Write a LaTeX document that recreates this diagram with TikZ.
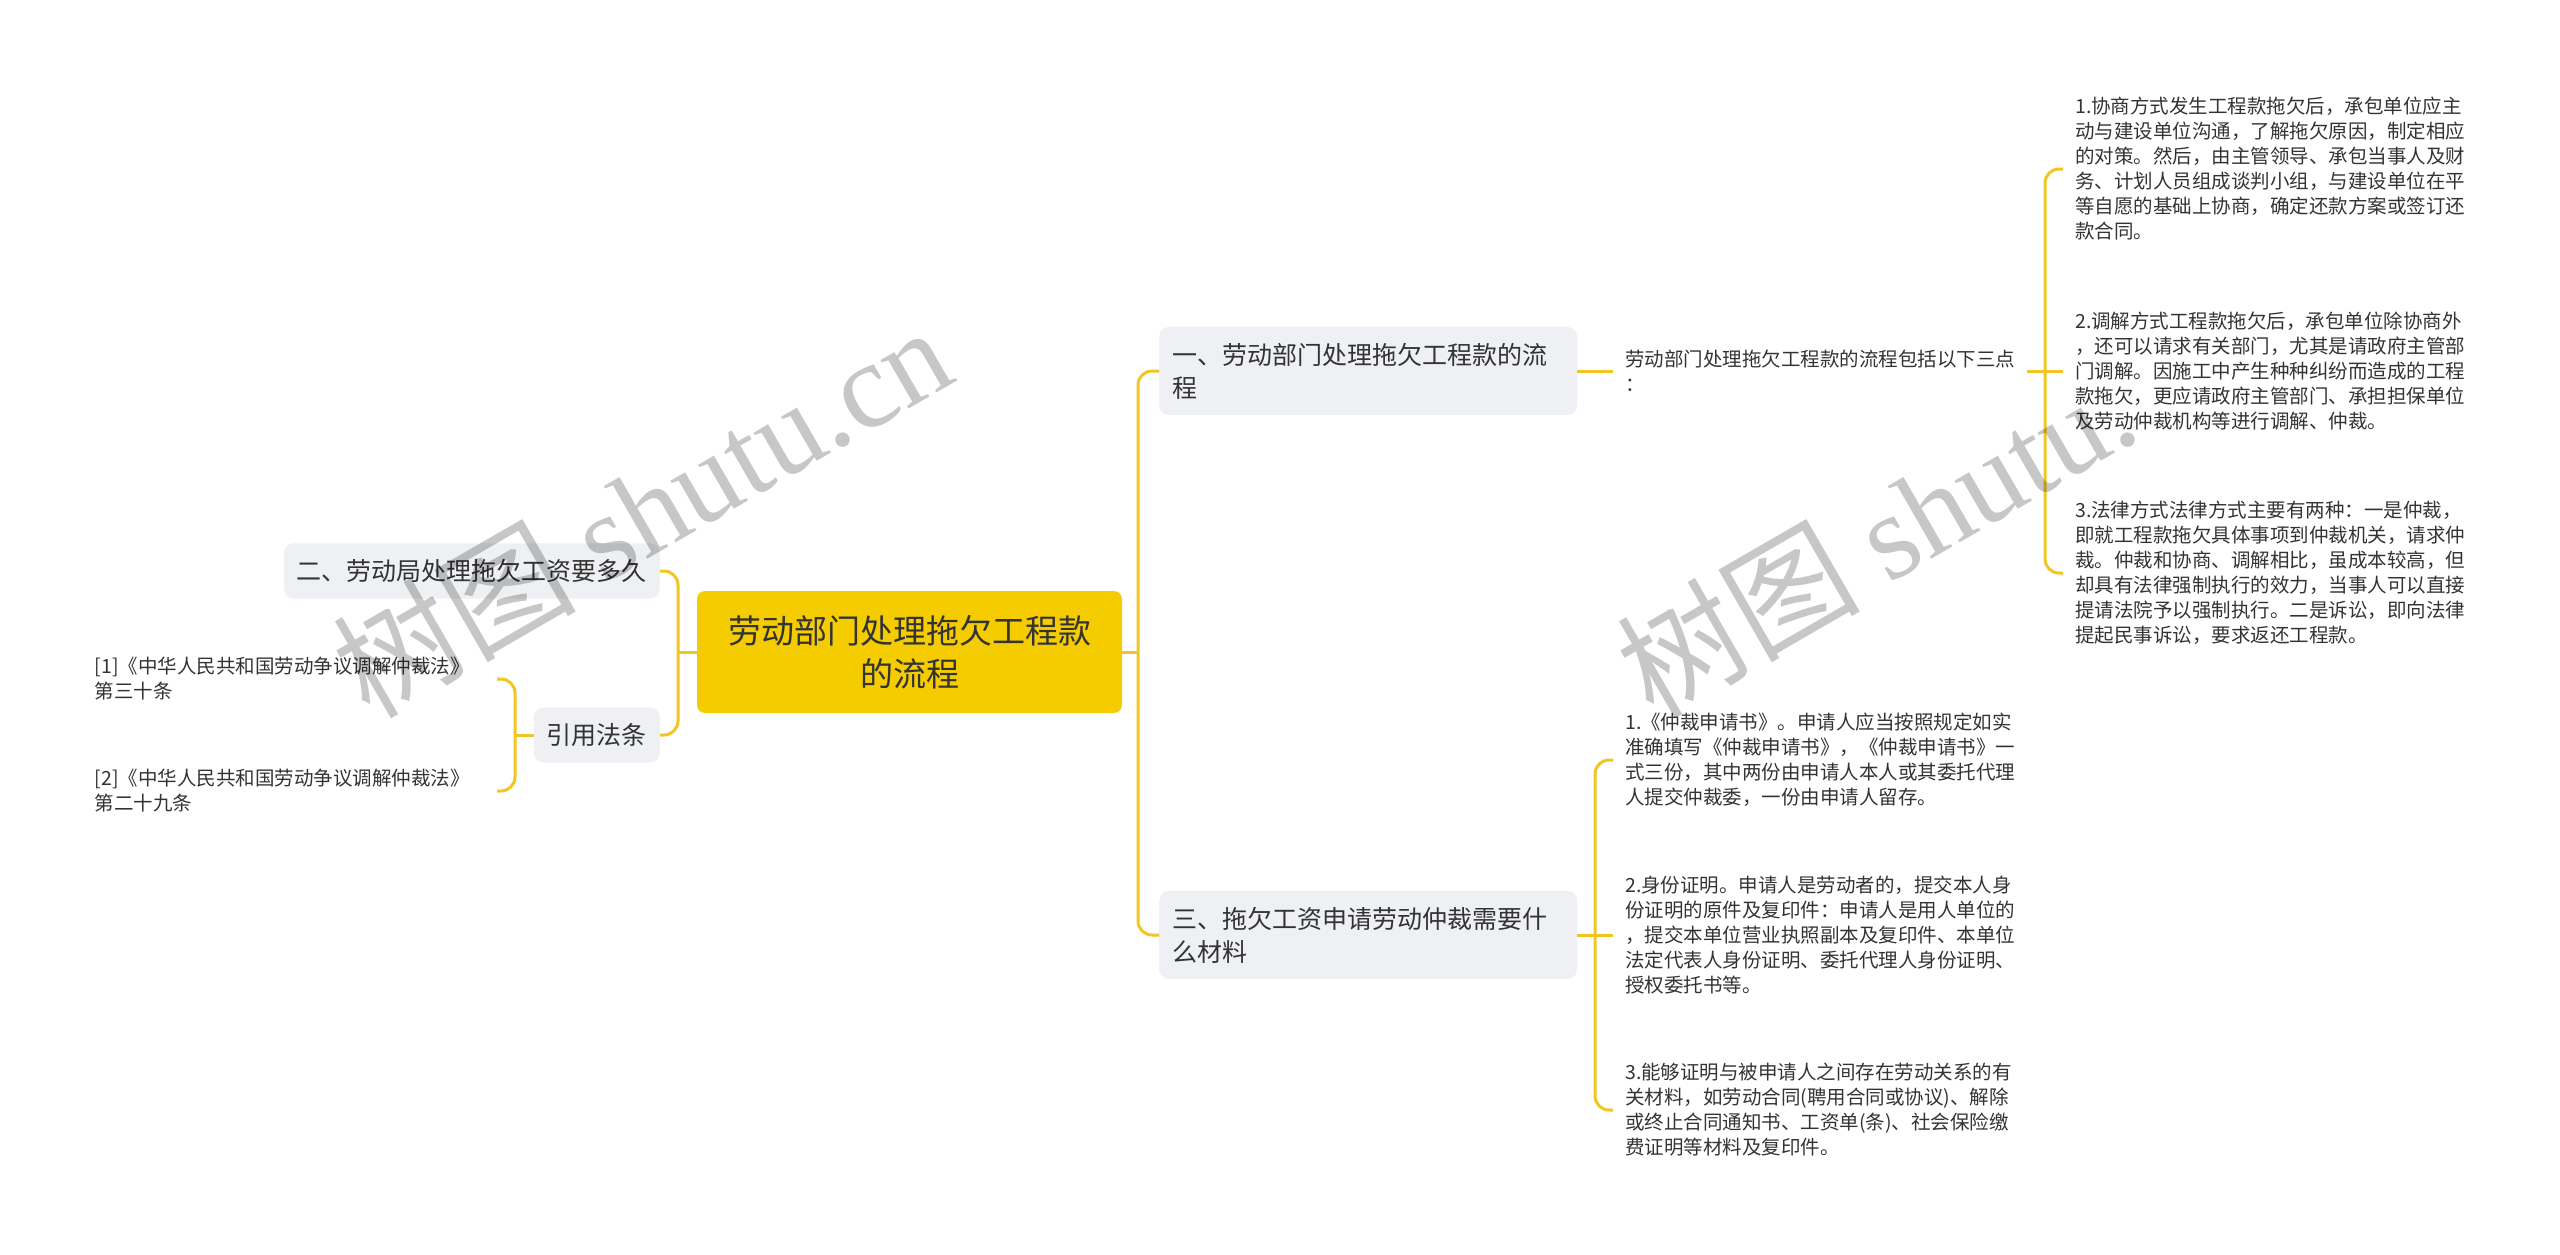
\documentclass[tikz,border=0pt]{standalone}
\usepackage{fontspec}
\setmainfont{Noto Sans CJK SC}
\newfontfamily\marklatin{Liberation Serif}
\usetikzlibrary{calc, positioning}

\definecolor{linkyellow}{HTML}{F2C622}
\definecolor{rootyellow}{HTML}{F5CC00}
\definecolor{topicgray}{HTML}{EEF0F3}
\definecolor{textdark}{HTML}{333333}

\tikzset{
  link/.style={draw=linkyellow, line width=3pt, rounded corners=14pt},
  rootbox/.style={fill=rootyellow, rounded corners=8pt, minimum width=425pt,
    minimum height=122pt, align=center, text=textdark,
    font=\fontsize{33}{43}\selectfont},
  topicbox/.style={fill=topicgray, rounded corners=10pt, inner xsep=13pt,
    inner ysep=16pt, align=left, text=textdark,
    font=\fontsize{25}{33}\selectfont},
  leaftext/.style={inner xsep=12pt, inner ysep=4pt, align=left, text=textdark,
    font=\fontsize{19.5}{25}\selectfont},
  watermark/.style={font=\fontsize{122}{122}\selectfont, text=black,
    opacity=0.22, rotate=30, anchor=base west}
}

\begin{document}
\begin{tikzpicture}[x=1pt, y=-1pt]
  \useasboundingbox (0,0) rectangle (2560,1255);

  % centre
  \node[rootbox] (root) at (909.5,652) {劳动部门处理拖欠工程款\\的流程};

  % left side
  \node[topicbox, anchor=east] (howlong) at (660,571) {二、劳动局处理拖欠工资要多久};
  \node[topicbox, anchor=east] (cite) at (660,735) {引用法条};
  \node[leaftext, anchor=east, text width=396pt, inner xsep=6pt] (law1) at (497,679)
    {[1]《中华人民共和国劳动争议调解仲裁法》\\第三十条};
  \node[leaftext, anchor=east, text width=396pt, inner xsep=6pt] (law2) at (497,791)
    {[2]《中华人民共和国劳动争议调解仲裁法》\\第二十九条};

  % right side
  \node[topicbox, anchor=west, text width=392pt] (flow) at (1159,371)
    {一、劳动部门处理拖欠工程款的流\\程};
  \node[topicbox, anchor=west, text width=392pt] (material) at (1159,935)
    {三、拖欠工资申请劳动仲裁需要什\\么材料};
  \node[leaftext, anchor=west] (intro) at (1613,371)
    {劳动部门处理拖欠工程款的流程包括以下三点\\：};

  \node[leaftext, anchor=west] (way1) at (2063,169)
    {1.协商方式发生工程款拖欠后，承包单位应主\\
     动与建设单位沟通，了解拖欠原因，制定相应\\
     的对策。然后，由主管领导、承包当事人及财\\
     务、计划人员组成谈判小组，与建设单位在平\\
     等自愿的基础上协商，确定还款方案或签订还\\
     款合同。};
  \node[leaftext, anchor=west] (way2) at (2063,371)
    {2.调解方式工程款拖欠后，承包单位除协商外\\
     ，还可以请求有关部门，尤其是请政府主管部\\
     门调解。因施工中产生种种纠纷而造成的工程\\
     款拖欠，更应请政府主管部门、承担担保单位\\
     及劳动仲裁机构等进行调解、仲裁。};
  \node[leaftext, anchor=west] (way3) at (2063,573)
    {3.法律方式法律方式主要有两种：一是仲裁，\\
     即就工程款拖欠具体事项到仲裁机关，请求仲\\
     裁。仲裁和协商、调解相比，虽成本较高，但\\
     却具有法律强制执行的效力，当事人可以直接\\
     提请法院予以强制执行。二是诉讼，即向法律\\
     提起民事诉讼，要求返还工程款。};

  \node[leaftext, anchor=west] (doc1) at (1613,760)
    {1.《仲裁申请书》。申请人应当按照规定如实\\
     准确填写《仲裁申请书》，《仲裁申请书》一\\
     式三份，其中两份由申请人本人或其委托代理\\
     人提交仲裁委，一份由申请人留存。};
  \node[leaftext, anchor=west] (doc2) at (1613,935)
    {2.身份证明。申请人是劳动者的，提交本人身\\
     份证明的原件及复印件：申请人是用人单位的\\
     ，提交本单位营业执照副本及复印件、本单位\\
     法定代表人身份证明、委托代理人身份证明、\\
     授权委托书等。};
  \node[leaftext, anchor=west] (doc3) at (1613,1110)
    {3.能够证明与被申请人之间存在劳动关系的有\\
     关材料，如劳动合同(聘用合同或协议)、解除\\
     或终止合同通知书、工资单(条)、社会保险缴\\
     费证明等材料及复印件。};

  % spines
  \coordinate (lsp) at (678,652);
  \coordinate (rsp) at (1138,652);
  \coordinate (citesp) at (515,735);
  \coordinate (flowsp) at (2045,371);
  \coordinate (matsp) at (1595,935);

  \draw[link] (root.west) -- (lsp);
  \draw[link] (howlong.east) -| (lsp) |- (cite.east);
  \draw[link] (cite.west) -- (citesp);
  \draw[link] (law1.east) -| (citesp) |- (law2.east);

  \draw[link] (root.east) -- (rsp);
  \draw[link] (flow.west) -| (rsp) |- (material.west);
  \draw[link] (flow.east) -- (intro.west);
  \draw[link] (intro.east) -- (flowsp) -- (way2.west);
  \draw[link] (way1.west) -| (flowsp) |- (way3.west);
  \draw[link] (material.east) -- (matsp) -- (doc2.west);
  \draw[link] (doc1.west) -| (matsp) |- (doc3.west);

  % watermarks
  \node[watermark] (mark1) at (366,722) {树图 {\marklatin shutu.cn}};
  \node[watermark] (mark2) at (1650,722) {树图 {\marklatin shutu.}};
\end{tikzpicture}
\end{document}
